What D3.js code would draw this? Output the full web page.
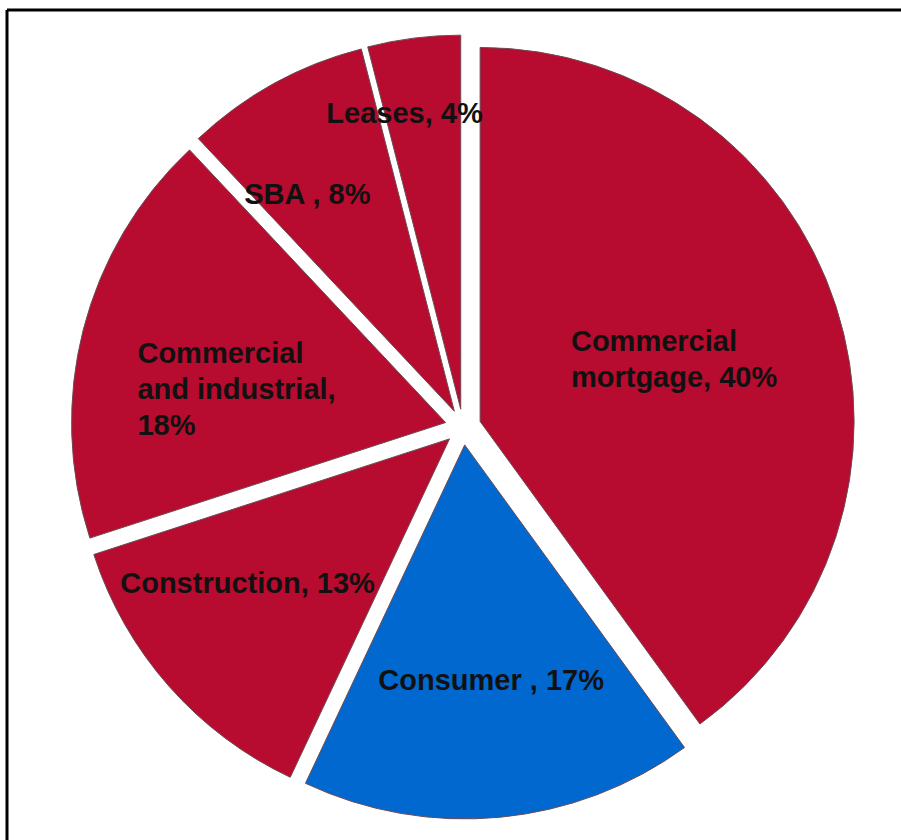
<!DOCTYPE html>
<html>
<head>
<meta charset="utf-8">
<script src="https://cdn.jsdelivr.net/npm/d3@7/dist/d3.min.js"></script>
<style>
  html, body { margin: 0; padding: 0; background: #fff; }
  svg { display: block; }
</style>
</head>
<body>
<svg id="chart" width="901" height="840"></svg>
<script>
// Loan portfolio composition (share of total, %)
const categories = ["Commercial mortgage", "Consumer ", "Construction", "Commercial and industrial", "SBA ", "Leases"];
const shares = [40, 17, 13, 18, 8, 4];
const labelLines = [
  ["Commercial", "mortgage, 40%"],
  ["Consumer , 17%"],
  ["Construction, 13%"],
  ["Commercial", "and industrial,", "18%"],
  ["SBA , 8%"],
  ["Leases, 4%"]
];
const sliceColors = ["#B70B2F", "#0068CE", "#B70B2F", "#B70B2F", "#B70B2F", "#B70B2F"];

// Label block placement relative to each slice centroid
const labelNudge = [
  { dx: -87, dy: -13 },
  { dx: -104, dy: 59 },
  { dx: -189, dy: 30 },
  { dx: -127, dy: -13 },
  { dx: -120, dy: -43 },
  { dx: -111, dy: -101 }
];

const W = 901, H = 840;
const cx = 463, cy = 427;
const radius = 374;
const explode = 18;
const fontSize = 29;
const lineGap = 36;

const svg = d3.select("#chart");

// Frame (top and left rules)
svg.append("line").attr("x1", 7).attr("y1", 10).attr("x2", W).attr("y2", 10)
  .attr("stroke", "#000").attr("stroke-width", 3);
svg.append("line").attr("x1", 7).attr("y1", 10).attr("x2", 7).attr("y2", H)
  .attr("stroke", "#000").attr("stroke-width", 3);

const data = categories.map((c, i) => ({ name: c, value: shares[i], lines: labelLines[i], color: sliceColors[i], nudge: labelNudge[i] }));

const pie = d3.pie().value(d => d.value).sort(null);
const arc = d3.arc().innerRadius(0).outerRadius(radius);
const arcs = pie(data);

const g = svg.append("g").attr("transform", `translate(${cx},${cy})`);

function offset(a) {
  const mid = (a.startAngle + a.endAngle) / 2;
  return [Math.sin(mid) * explode, -Math.cos(mid) * explode];
}

g.selectAll("path.slice")
  .data(arcs)
  .join("path")
  .attr("class", "slice")
  .attr("d", arc)
  .attr("transform", d => { const [ox, oy] = offset(d); return `translate(${ox},${oy})`; })
  .attr("fill", d => d.data.color)
  .attr("stroke", "#6d4a52")
  .attr("stroke-width", 1);

g.selectAll("text.label")
  .data(arcs)
  .join("text")
  .attr("class", "label")
  .attr("font-family", "'Liberation Sans', Arial, sans-serif")
  .attr("font-weight", "bold")
  .attr("font-size", fontSize)
  .attr("fill", "#111")
  .each(function (d) {
    const [ox, oy] = offset(d);
    const [px, py] = arc.centroid(d);
    const x = px + ox + d.data.nudge.dx;
    const y = py + oy + d.data.nudge.dy;
    d3.select(this).selectAll("tspan")
      .data(d.data.lines)
      .join("tspan")
      .attr("x", x)
      .attr("y", (t, i) => y + i * lineGap)
      .text(t => t);
  });
</script>
</body>
</html>
